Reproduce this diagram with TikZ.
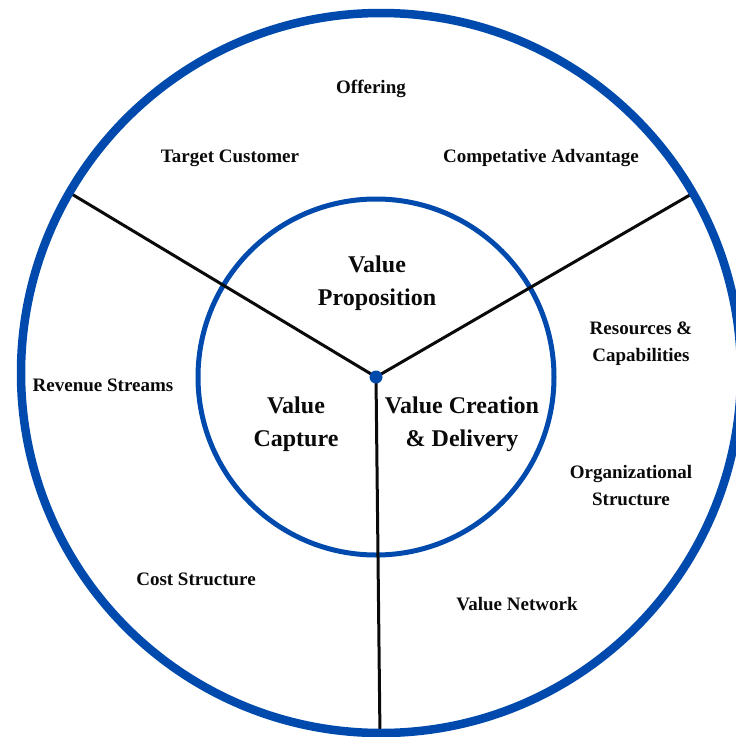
\documentclass[tikz,border=0pt]{standalone}
\usepackage{fontspec}
\setmainfont{Liberation Serif}
\definecolor{ringblue}{HTML}{004AAD}
\definecolor{ink}{HTML}{0A0A0A}

\begin{document}
\begin{tikzpicture}[x=1pt, y=-1pt, every node/.style={font=\bfseries\fontsize{19}{27}\selectfont, text=ink, align=center, inner sep=0pt}, core/.style={font=\bfseries\fontsize{24}{33}\selectfont}]
  \useasboundingbox (0,0) rectangle (736,737);
  \clip (0,0) rectangle (736,737);

  % rings
  \coordinate (hub) at (376,377);
  \draw[ringblue, line width=5pt] (hub) circle[radius=178];

  % spokes out to the rim
  \coordinate (left) at (70,193);
  \coordinate (right) at (695,192);
  \coordinate (down) at (380,737);
  \draw[ink, line width=3pt] (hub) -- (left);
  \draw[ink, line width=3pt] (hub) -- (right);
  \draw[ink, line width=3pt] (hub) -- (down);

  \draw[ringblue, line width=8.5pt] (381,373) circle[radius=360];
  \fill[ringblue] (hub) circle[radius=6.5];

  % core labels
  \node[core] (prop) at (377,283) {Value\\Proposition};
  \node[core] (capture) at (296,424) {Value\\Capture};
  \node[core] (creation) at (462,424) {Value Creation\\\& Delivery};

  % outer ring labels
  \node (offer) at (371,89) {Offering};
  \node (target) at (230,158) {Target Customer};
  \node (advantage) at (541,158) {Competative Advantage};
  \node (revenue) at (103,385) {Revenue Streams};
  \node (resources) at (641,344) {Resources \&\\Capabilities};
  \node (orgstruct) at (631,486) {Organizational\\Structure};
  \node (cost) at (196,579) {Cost Structure};
  \node (network) at (517,604) {Value Network};
\end{tikzpicture}
\end{document}
